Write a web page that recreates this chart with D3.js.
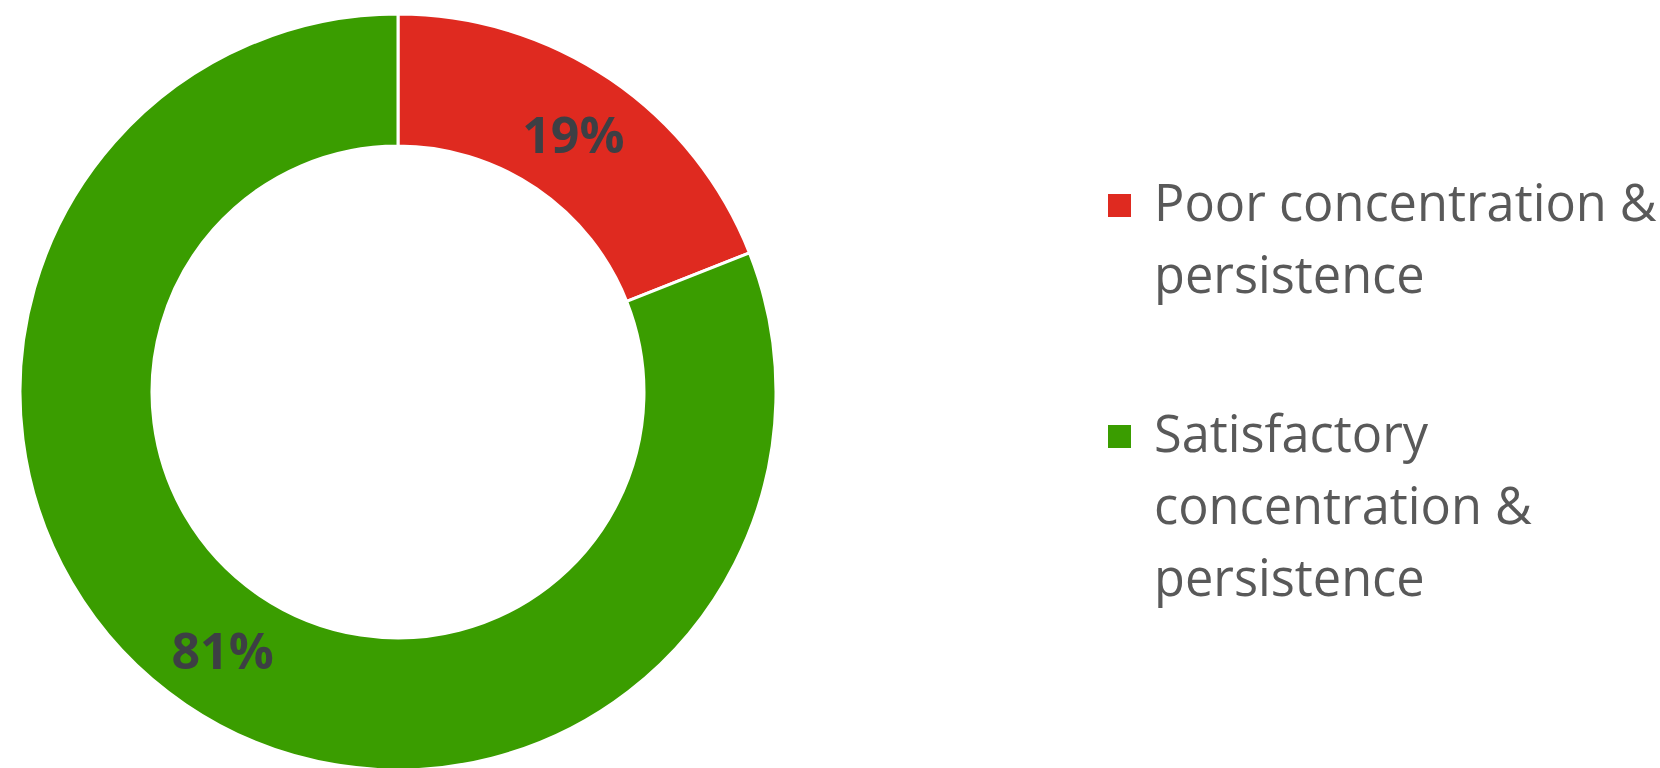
<!DOCTYPE html>
<html>
<head>
<meta charset="utf-8">
<script src="https://cdn.jsdelivr.net/npm/d3@7"></script>
<style>
  html, body { margin: 0; padding: 0; background: #ffffff; }
  svg { display: block; }
</style>
</head>
<body>
<svg id="chart" width="1660" height="768"></svg>
<script>
// Share of pupils by concentration & persistence rating
const categories = ["Poor concentration & persistence", "Satisfactory concentration & persistence"];
const values = [19, 81];
const colors = ["#df2a20", "#3a9d00"];
// Legend text, wrapped as it is shown
const legendLines = [
  ["Poor concentration &", "persistence"],
  ["Satisfactory", "concentration &", "persistence"]
];

const svg = d3.select("#chart");
const cx = 398, cy = 392;
const outerR = 378, innerR = 246;

const data = categories.map((c, i) => ({ name: c, value: values[i], color: colors[i] }));

const pie = d3.pie().value(d => d.value).sort(null);
const arc = d3.arc().innerRadius(innerR).outerRadius(outerR);
const arcs = pie(data);

const g = svg.append("g").attr("transform", `translate(${cx},${cy})`);

g.selectAll("path.slice")
  .data(arcs)
  .join("path")
  .attr("class", "slice")
  .attr("d", arc)
  .attr("fill", d => d.data.color)
  .attr("stroke", "#ffffff")
  .attr("stroke-width", 3)
  .attr("stroke-linejoin", "miter");

g.selectAll("text.pct")
  .data(arcs)
  .join("text")
  .attr("class", "pct")
  .attr("transform", d => `translate(${arc.centroid(d)})`)
  .attr("text-anchor", "middle")
  .attr("dominant-baseline", "central")
  .attr("font-family", "'Open Sans', 'Noto Sans', sans-serif")
  .attr("font-weight", 700)
  .attr("font-size", 50)
  .attr("fill", "#3d3f44")
  .text(d => d.data.value + "%");

// Legend
const legendX = 1108, textX = 1154;
const lineH = 72;
const entryTop = [221, 452];
const legend = svg.append("g");

data.forEach((d, i) => {
  const base = entryTop[i];
  legend.append("rect")
    .attr("x", legendX)
    .attr("y", base - 27 - (i === 0 ? 0 : 0))
    .attr("width", 23)
    .attr("height", 23)
    .attr("fill", d.color);
  const t = legend.append("text")
    .attr("font-family", "'Open Sans', 'Noto Sans', sans-serif")
    .attr("font-size", 50.5)
    .attr("fill", "#595959");
  legendLines[i].forEach((ln, j) => {
    t.append("tspan")
      .attr("x", textX)
      .attr("y", base + j * lineH)
      .text(ln);
  });
});
</script>
</body>
</html>
